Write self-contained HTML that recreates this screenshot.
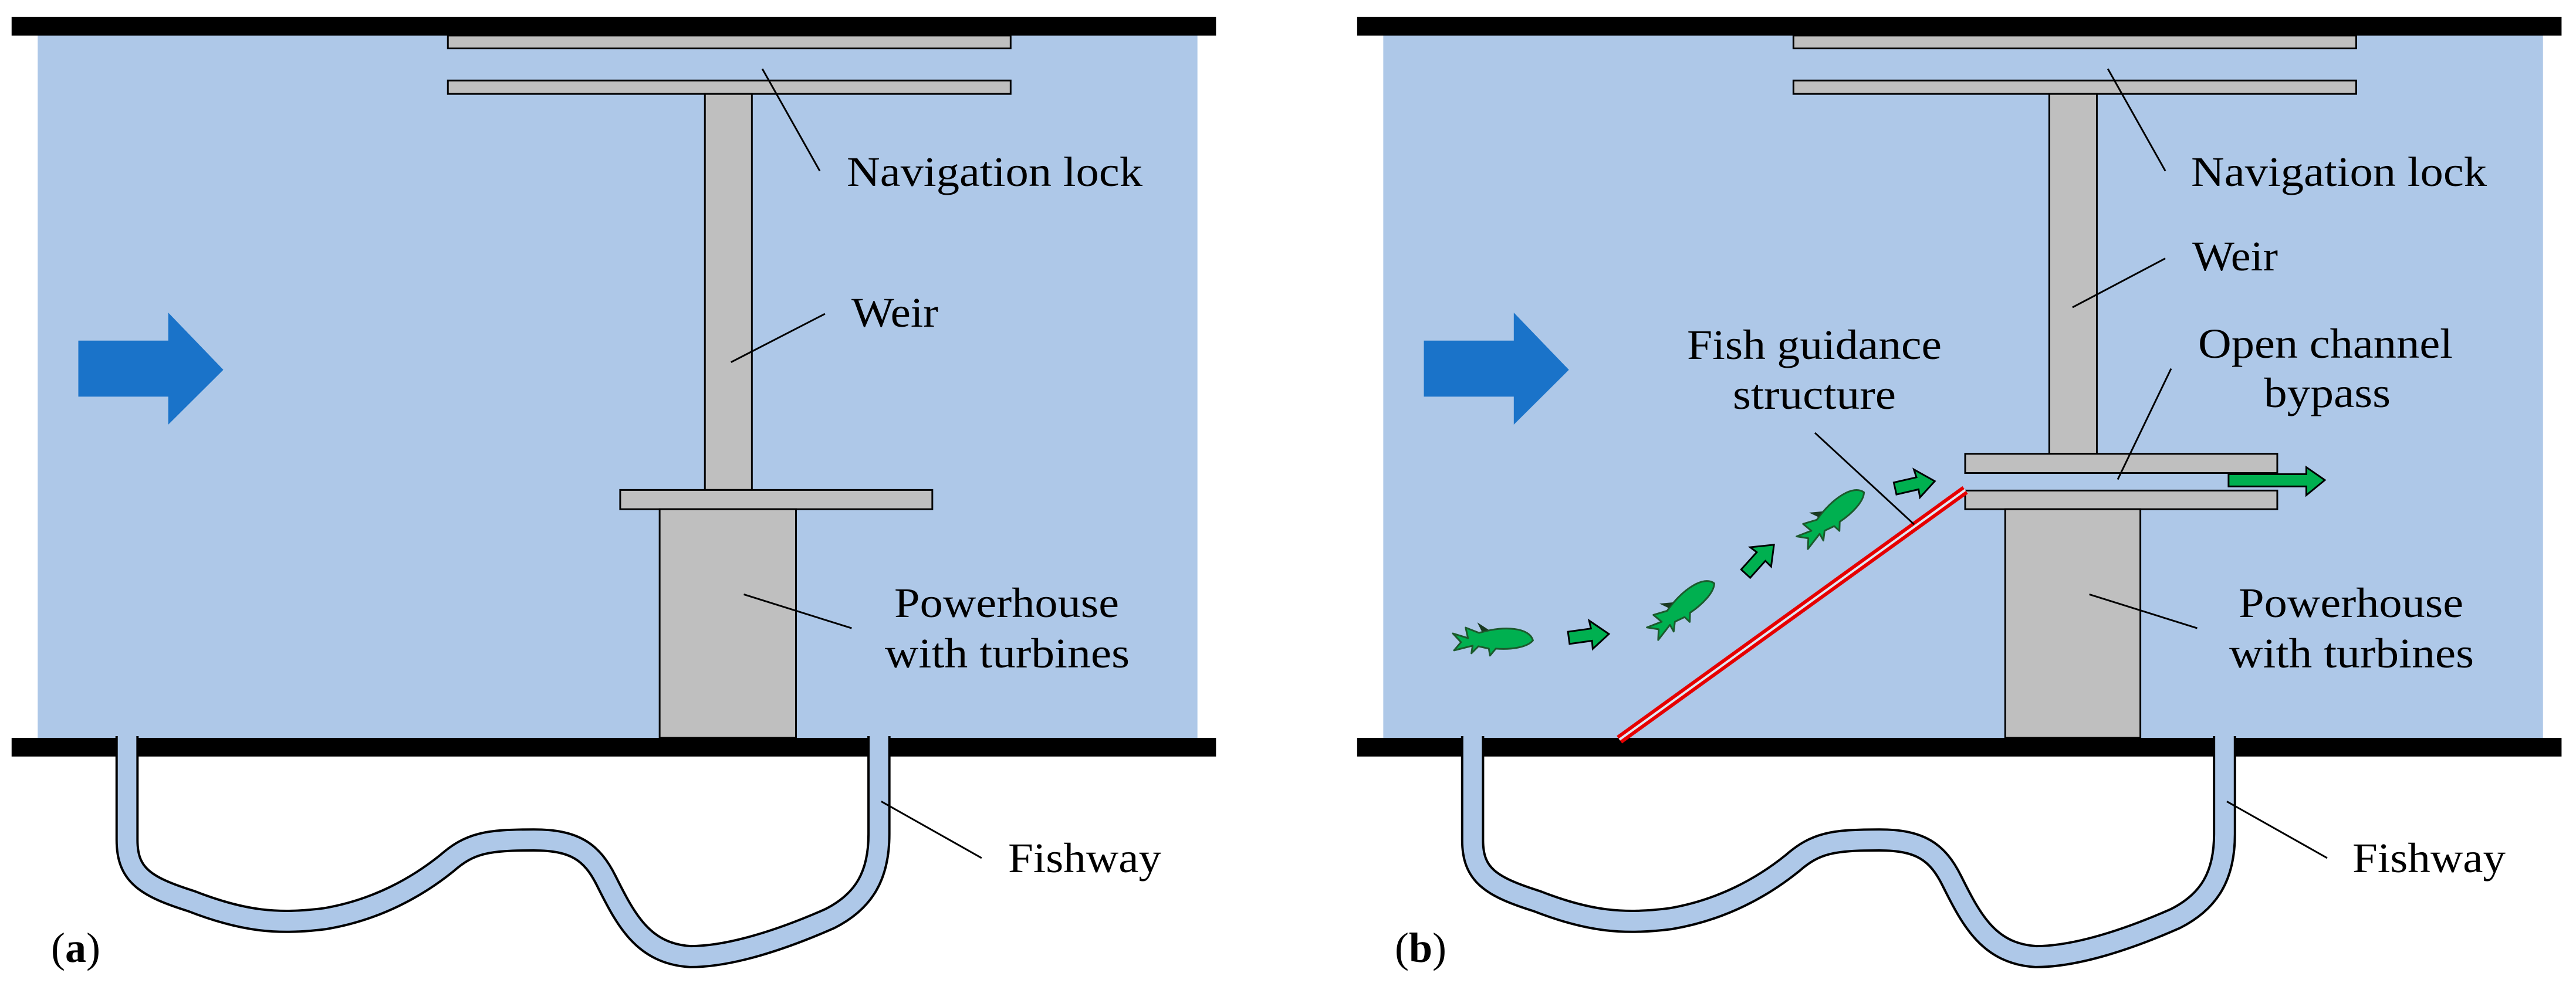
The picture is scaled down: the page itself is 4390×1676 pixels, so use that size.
<!DOCTYPE html>
<html><head><meta charset="utf-8"><style>
html,body{margin:0;padding:0;background:#fff}
svg{display:block}
text{font-family:"Liberation Serif",serif;font-size:72px;fill:#000}
</style></head><body>
<svg width="4390" height="1676" viewBox="0 0 4390 1676" xmlns="http://www.w3.org/2000/svg">
<defs>
<g id="fishway">
  <path d="M219,1262 L219,1440 C219,1500 250,1520 330,1545 C420,1580 480,1585 560,1575 C650,1560 720,1520 770,1480 C810,1445 840,1440 920,1440 C990,1440 1020,1460 1045,1510 C1080,1580 1110,1635 1190,1640 C1260,1640 1350,1610 1430,1575 C1490,1545 1515,1500 1515,1430 L1515,1262" fill="none" stroke="#000" stroke-width="40" stroke-linejoin="round"/>
  <path d="M219,1262 L219,1440 C219,1500 250,1520 330,1545 C420,1580 480,1585 560,1575 C650,1560 720,1520 770,1480 C810,1445 840,1440 920,1440 C990,1440 1020,1460 1045,1510 C1080,1580 1110,1635 1190,1640 C1260,1640 1350,1610 1430,1575 C1490,1545 1515,1500 1515,1430 L1515,1258" fill="none" stroke="#aec8e8" stroke-width="32" stroke-linejoin="round"/>
</g>
<polygon id="bigarrow" points="135,584 290,584 290,536 385,634 290,728 290,680 135,680" fill="#1a73c9"/>
<polygon id="sarrow" points="-35,-9 5,-11 3,-25 35,1 5,24 5,10 -34,12" fill="#00b050" stroke="#000" stroke-width="3" stroke-linejoin="miter"/>
<g id="fish">
  <path d="M68,0 C62,-22 20,-26 -25,-13 L-48,-22 L-44,-4 L-70,-12 L-56,3 L-68,17 L-36,9 L-38,22 L-26,10 L-8,14 L-6,26 L4,14 C30,16 58,12 68,0 Z" fill="#00b050" stroke="#1c5a2c" stroke-width="3" stroke-linejoin="round"/>
  <path d="M-20,-15 L-28,-31 L-8,-18 Z" fill="#1a3a22"/>
</g>
</defs>

<!-- Panel a -->
<g transform="scale(0.9887,0.9945)">
<rect x="65" y="58" width="1999" height="1210" fill="#aec8e8"/>
<rect x="20" y="29" width="2076" height="32" fill="#000"/>
<rect x="20" y="1265" width="2076" height="32" fill="#000"/>
<use href="#fishway"/>
<rect x="772" y="61" width="970" height="22" fill="#bfbfbf" stroke="#000" stroke-width="3"/>
<rect x="772" y="138" width="970" height="23" fill="#bfbfbf" stroke="#000" stroke-width="3"/>
<rect x="1215" y="161" width="81" height="679" fill="#bfbfbf" stroke="#000" stroke-width="3"/>
<rect x="1069" y="840" width="538" height="33" fill="#bfbfbf" stroke="#000" stroke-width="3"/>
<rect x="1137" y="873" width="235" height="392" fill="#bfbfbf" stroke="#000" stroke-width="3"/>
<use href="#bigarrow"/>
<g stroke="#000" stroke-width="3">
<line x1="1314" y1="118" x2="1413" y2="293"/>
<line x1="1260" y1="621" x2="1422" y2="538"/>
<line x1="1282" y1="1019" x2="1468" y2="1077"/>
<line x1="1519" y1="1374" x2="1692" y2="1471"/>
</g>
</g>
<text x="1443" y="317" textLength="504" lengthAdjust="spacingAndGlyphs">Navigation lock</text>
<text x="1451" y="557" textLength="148" lengthAdjust="spacingAndGlyphs">Weir</text>
<text x="1524" y="1052" textLength="383" lengthAdjust="spacingAndGlyphs">Powerhouse</text>
<text x="1508" y="1138" textLength="417" lengthAdjust="spacingAndGlyphs">with turbines</text>
<text x="1718" y="1487" textLength="261" lengthAdjust="spacingAndGlyphs">Fishway</text>
<text x="87" y="1640">(<tspan font-weight="bold">a</tspan>)</text>

<!-- Panel b -->
<g transform="translate(25,0) scale(0.9887,0.9945)">
<rect x="2359" y="58" width="1999" height="1210" fill="#aec8e8"/>
<rect x="2314" y="29" width="2076" height="32" fill="#000"/>
<rect x="2314" y="1265" width="2076" height="32" fill="#000"/>
<use href="#fishway" transform="translate(2294,0)"/>
<rect x="3066" y="61" width="970" height="22" fill="#bfbfbf" stroke="#000" stroke-width="3"/>
<rect x="3066" y="138" width="970" height="23" fill="#bfbfbf" stroke="#000" stroke-width="3"/>
<rect x="3507" y="161" width="82" height="617" fill="#bfbfbf" stroke="#000" stroke-width="3"/>
<rect x="3362" y="778" width="538" height="33" fill="#bfbfbf" stroke="#000" stroke-width="3"/>
<rect x="3362" y="841" width="538" height="32" fill="#bfbfbf" stroke="#000" stroke-width="3"/>
<rect x="3431" y="873" width="233" height="392" fill="#bfbfbf" stroke="#000" stroke-width="3"/>
<use href="#bigarrow" transform="translate(2294,0)"/>
<line x1="2766" y1="1268" x2="3362" y2="840" stroke="#e60000" stroke-width="16"/>
<line x1="2766" y1="1268" x2="3362" y2="840" stroke="#dfe8f4" stroke-width="4"/>
<polygon points="3816,813 3950,813 3950,801 3982,823 3950,849 3950,834 3816,834" fill="#00b050" stroke="#000" stroke-width="3"/>
<use href="#fish" transform="translate(2549,1098)"/>
<use href="#fish" transform="translate(2876,1042) rotate(-38)"/>
<use href="#fish" transform="translate(3134,886) rotate(-38)"/>
<use href="#sarrow" transform="translate(2713,1089) rotate(-5)"/>
<use href="#sarrow" transform="translate(3007,958) rotate(-45)"/>
<use href="#sarrow" transform="translate(3275,830) rotate(-10)"/>
<g stroke="#000" stroke-width="3">
<line x1="3608" y1="118" x2="3707" y2="293"/>
<line x1="3547" y1="527" x2="3707" y2="443"/>
<line x1="3717" y1="632" x2="3625" y2="822"/>
<line x1="3103" y1="742" x2="3274" y2="899"/>
<line x1="3576" y1="1019" x2="3762" y2="1077"/>
<line x1="3813" y1="1374" x2="3986" y2="1471"/>
</g>
</g>
<text x="3734" y="317" textLength="504" lengthAdjust="spacingAndGlyphs">Navigation lock</text>
<text x="3736" y="461" textLength="146" lengthAdjust="spacingAndGlyphs">Weir</text>
<text x="2875" y="612" textLength="434" lengthAdjust="spacingAndGlyphs">Fish guidance</text>
<text x="2953" y="697" textLength="278" lengthAdjust="spacingAndGlyphs">structure</text>
<text x="3746" y="610" textLength="434" lengthAdjust="spacingAndGlyphs">Open channel</text>
<text x="3858" y="694" textLength="216" lengthAdjust="spacingAndGlyphs">bypass</text>
<text x="3815" y="1052" textLength="383" lengthAdjust="spacingAndGlyphs">Powerhouse</text>
<text x="3799" y="1138" textLength="417" lengthAdjust="spacingAndGlyphs">with turbines</text>
<text x="4009" y="1487" textLength="261" lengthAdjust="spacingAndGlyphs">Fishway</text>
<text x="2377" y="1640">(<tspan font-weight="bold">b</tspan>)</text>
</svg>
</body></html>
